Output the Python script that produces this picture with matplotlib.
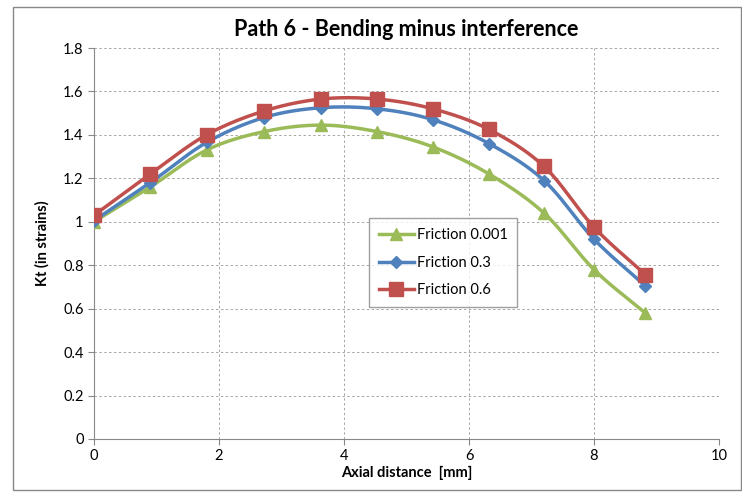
import numpy as np
import matplotlib
matplotlib.use("Agg")
import matplotlib.pyplot as plt
from matplotlib.patches import Rectangle

plt.rcParams['font.family'] = ['Lato', 'DejaVu Sans']

x = [0, 0.9, 1.8, 2.72, 3.63, 4.53, 5.42, 6.32, 7.2, 8.0, 8.82]
kt_0001 = [1.0, 1.16, 1.33, 1.415, 1.445, 1.415, 1.345, 1.22, 1.04, 0.78, 0.58]
kt_03 = [1.005, 1.18, 1.365, 1.48, 1.525, 1.52, 1.47, 1.36, 1.19, 0.92, 0.705]
kt_06 = [1.03, 1.22, 1.40, 1.51, 1.565, 1.565, 1.52, 1.425, 1.255, 0.975, 0.757]

labels = ["Friction 0.001", "Friction 0.3", "Friction 0.6"]
colors = ["#9BBB59", "#4F81BD", "#C0504D"]
markers = ["^", "D", "s"]
msizes = [9, 6, 9.5]


def smooth(xs, ys, n=20):
    """Catmull-Rom style smoothing through every point."""
    xs = np.asarray(xs, float)
    ys = np.asarray(ys, float)
    px = np.concatenate([[2 * xs[0] - xs[1]], xs, [2 * xs[-1] - xs[-2]]])
    py = np.concatenate([[2 * ys[0] - ys[1]], ys, [2 * ys[-1] - ys[-2]]])
    ox, oy = [], []
    t = np.linspace(0, 1, n, endpoint=False)
    for i in range(1, len(px) - 2):
        p0, p1, p2, p3 = (np.array([px[j], py[j]]) for j in range(i - 1, i + 3))
        c1 = p1 + (p2 - p0) / 6
        c2 = p2 - (p3 - p1) / 6
        pts = ((1 - t) ** 3)[:, None] * p1 + (3 * (1 - t) ** 2 * t)[:, None] * c1 \
            + (3 * (1 - t) * t ** 2)[:, None] * c2 + (t ** 3)[:, None] * p2
        ox.extend(pts[:, 0])
        oy.extend(pts[:, 1])
    ox.append(xs[-1])
    oy.append(ys[-1])
    return np.array(ox), np.array(oy)


fig = plt.figure(figsize=(7.42, 4.92), dpi=100)
ax = fig.add_axes([94 / 742, 1 - 439 / 492, (719 - 94) / 742, (439 - 48) / 492])

fig.patches.append(Rectangle((13 / 742, 2 / 492), 1 - 13 / 742 - 1 / 742, 1 - 9 / 492,
                             transform=fig.transFigure, fill=False,
                             edgecolor="#888888", linewidth=1.0))

for ys, lab, c, m, ms in zip([kt_0001, kt_03, kt_06], labels, colors, markers, msizes):
    sx, sy = smooth(x, ys)
    ax.plot(sx, sy, color=c, linewidth=2.5, zorder=3)
    ax.plot(x, ys, linestyle="none", marker=m, markersize=ms, color=c, zorder=4)
    ax.plot([], [], color=c, linewidth=2.5, marker=m, markersize=ms, label=lab)

ax.set_xlim(0, 10)
ax.set_ylim(0, 1.8)
ax.set_xticks(np.arange(0, 11, 2))
ax.set_yticks(np.arange(0, 1.81, 0.2))
ax.set_yticklabels(["0", "0.2", "0.4", "0.6", "0.8", "1", "1.2", "1.4", "1.6", "1.8"])
ax.grid(True, linestyle=(0, (2.5, 2.5)), color="#A6A6A6", linewidth=0.7)
ax.set_axisbelow(True)
for s in ["top", "right"]:
    ax.spines[s].set_visible(False)
for s in ["left", "bottom"]:
    ax.spines[s].set_color("#888888")
ax.tick_params(axis="both", direction="out", length=4, color="#888888",
               labelsize=10.5, labelcolor="#000000")

ax.set_title("Path 6 - Bending minus interference", fontsize=15.5, fontweight="bold", pad=9)
ax.set_xlabel("Axial distance  [mm]", fontsize=10.5, fontweight="bold", labelpad=2)
ax.set_ylabel("Kt (in strains)", fontsize=10.5, fontweight="bold", labelpad=10)

leg = ax.legend(loc="upper left", bbox_to_anchor=((362 - 94) / 625, (439 - 211) / 391),
                frameon=True, fancybox=False, edgecolor="#888888", fontsize=10.5,
                handlelength=2.4, labelspacing=0.95, borderpad=0.65, handletextpad=0.2)
leg.get_frame().set_linewidth(1.0)

fig.savefig("out.png", dpi=100)
